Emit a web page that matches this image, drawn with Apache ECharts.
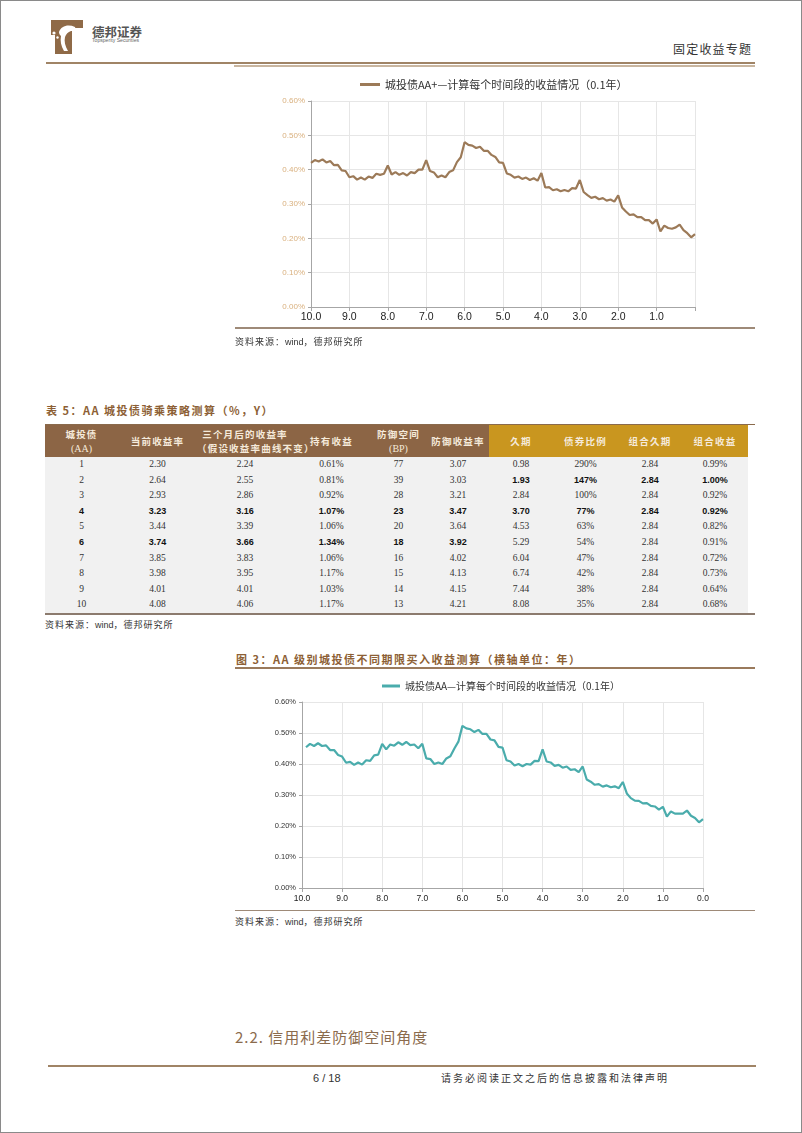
<!DOCTYPE html>
<html>
<head>
<meta charset="utf-8">
<script src="https://cdn.jsdelivr.net/npm/echarts@6/dist/echarts.min.js"></script>
<style>
  html,body{margin:0;padding:0;background:#fff;}
  #page{position:relative;width:802px;height:1133px;overflow:hidden;font-family:"Noto Sans CJK SC","Noto Sans",sans-serif;color:#333;}
  .abs{position:absolute;white-space:nowrap;}
  .frame{position:absolute;left:0;top:0;width:802px;height:1133px;box-sizing:border-box;border:1px solid #8a8a8a;pointer-events:none;}
  .rule{position:absolute;}
  .lat{letter-spacing:0;font-family:"Liberation Sans",sans-serif;}
  #tbl{position:absolute;left:45px;top:425px;border-collapse:collapse;border-spacing:0;table-layout:fixed;}
  #tbl td{padding:0;text-align:center;vertical-align:middle;white-space:nowrap;}
  #tbl tr.head td{height:32px;color:#f5eadb;font-weight:bold;font-size:9.5px;letter-spacing:1.2px;line-height:14px;overflow:visible;}
  #tbl tr.head td .lat{font-family:"Liberation Serif",serif;font-weight:normal;font-size:10px;}
  #tbl tr.body td{height:15.6px;line-height:15.6px;background:#f1f1f1;font-family:"Liberation Serif",serif;font-size:9.5px;color:#333;overflow:hidden;}
  #tbl tr.body td.b{font-family:"Liberation Sans",sans-serif;font-weight:bold;font-size:9px;color:#111;}
</style>
</head>
<body>
<div id="page">
  <!-- header -->
  <svg class="abs" style="left:51px;top:20px" width="32" height="34" viewBox="0 0 32 34">
    <path d="M0 0 H32 V8 H21 V34 H4 V15 H0 Z" fill="#8f6a47"/>
    <path d="M8 12 C10 6 17 4 24 7 C25 9 23 11 20 11 C17 12 15 14 14 17 C13 21 14 26 17 31 L13 31 C10 26 9 21 10 16 C9 15 8 14 8 12 Z" fill="#fff"/>
    <circle cx="3" cy="13" r="1.6" fill="#fff"/>
    <circle cx="2.5" cy="19" r="1.3" fill="#fff"/>
    <circle cx="6.5" cy="17.5" r="1.2" fill="#fff"/>
  </svg>
  <div class="abs" style="left:92px;top:24px;font-size:12.5px;line-height:16px;font-weight:bold;color:#555;">德邦证券</div>
  <div class="abs" style="left:92px;top:38px;font-size:6px;line-height:7px;color:#666;transform:scale(0.85);transform-origin:left top;font-family:'Liberation Sans',sans-serif;">Topsperity Securities</div>
  <div class="abs" style="left:673px;top:41px;font-size:12px;line-height:16px;letter-spacing:1.2px;color:#333;">固定收益专题</div>
  <div class="rule" style="left:46px;top:61.5px;width:709px;height:2.5px;background:#a08466;"></div>
  <div class="rule" style="left:234px;top:64.5px;width:521px;height:2px;background:#c9b6a0;"></div>

  <!-- top chart -->
  <div id="chart1" class="abs" style="left:235px;top:70px;width:520px;height:258px;"></div>
  <div class="rule" style="left:235px;top:327px;width:520px;height:1.5px;background:#9e8a78;"></div>
  <div class="abs" style="left:235px;top:334px;font-size:9px;line-height:16px;letter-spacing:1px;color:#333;">资料来源：<span class="lat">wind</span>，德邦研究所</div>

  <!-- table -->
  <div class="abs" style="left:46px;top:402px;font-size:11px;line-height:16px;letter-spacing:1.5px;font-weight:bold;color:#8d5f35;">表 5：AA 城投债骑乘策略测算（%，Y）</div>
  <div class="rule" style="left:45px;top:423.5px;width:710px;height:1.5px;background:#8a6a4c;"></div>
  <table id="tbl"></table>
  <div class="rule" style="left:45px;top:613px;width:710px;height:2px;background:#8c7b6e;"></div>
  <div class="abs" style="left:45px;top:617px;font-size:9px;line-height:16px;letter-spacing:1px;color:#333;">资料来源：<span class="lat">wind</span>，德邦研究所</div>

  <!-- figure 3 -->
  <div class="abs" style="left:236px;top:651px;font-size:11px;line-height:16px;letter-spacing:1.5px;font-weight:bold;color:#8d5f35;">图 3：AA 级别城投债不同期限买入收益测算（横轴单位：年）</div>
  <div class="rule" style="left:235px;top:667px;width:520px;height:1.5px;background:#9a7a5c;"></div>
  <div id="chart2" class="abs" style="left:235px;top:672px;width:520px;height:236px;"></div>
  <div class="rule" style="left:235px;top:909.5px;width:520px;height:1.5px;background:#9e8a78;"></div>
  <div class="abs" style="left:235px;top:914px;font-size:9px;line-height:16px;letter-spacing:1px;color:#333;">资料来源：<span class="lat">wind</span>，德邦研究所</div>

  <!-- section heading and footer -->
  <div class="abs" style="left:235px;top:1027px;font-size:15px;line-height:20px;letter-spacing:1px;color:#8b6b4d;">2.2. 信用利差防御空间角度</div>
  <div class="rule" style="left:48px;top:1064.5px;width:708px;height:2.5px;background:#a08466;"></div>
  <div class="abs" style="left:313px;top:1071px;font-size:11px;line-height:14px;color:#333;font-family:'Liberation Sans',sans-serif;">6 / 18</div>
  <div class="abs" style="left:441px;top:1071px;font-size:10px;line-height:14px;letter-spacing:2px;color:#333;">请务必阅读正文之后的信息披露和法律声明</div>

  <div class="frame"></div>
</div>

<script>
// ---------------- data ----------------
const categories = [
  '10.0','9.9','9.8','9.7','9.6','9.5','9.4','9.3','9.2','9.1',
  '9.0','8.9','8.8','8.7','8.6','8.5','8.4','8.3','8.2','8.1',
  '8.0','7.9','7.8','7.7','7.6','7.5','7.4','7.3','7.2','7.1',
  '7.0','6.9','6.8','6.7','6.6','6.5','6.4','6.3','6.2','6.1',
  '6.0','5.9','5.8','5.7','5.6','5.5','5.4','5.3','5.2','5.1',
  '5.0','4.9','4.8','4.7','4.6','4.5','4.4','4.3','4.2','4.1',
  '4.0','3.9','3.8','3.7','3.6','3.5','3.4','3.3','3.2','3.1',
  '3.0','2.9','2.8','2.7','2.6','2.5','2.4','2.3','2.2','2.1',
  '2.0','1.9','1.8','1.7','1.6','1.5','1.4','1.3','1.2','1.1',
  '1.0','0.9','0.8','0.7','0.6','0.5','0.4','0.3','0.2','0.1',
  '0.0'
];
const xTickLabelsTop = ['10.0','9.0','8.0','7.0','6.0','5.0','4.0','3.0','2.0','1.0'];
const xTickLabelsBottom = ['10.0','9.0','8.0','7.0','6.0','5.0','4.0','3.0','2.0','1.0','0.0'];
const yAxisMin = 0, yAxisMax = 0.6, yAxisStep = 0.1;

const seriesNameAAPlus = '城投债AA+—计算每个时间段的收益情况（0.1年）';
const yieldAAPlus = [
  0.420,0.428,0.424,0.430,0.421,0.425,0.413,0.414,0.398,0.396,
  0.378,0.381,0.371,0.377,0.371,0.380,0.376,0.388,0.385,0.388,
  0.412,0.386,0.393,0.385,0.390,0.383,0.393,0.390,0.400,0.400,
  0.428,0.396,0.392,0.378,0.383,0.378,0.393,0.398,0.422,0.436,
  0.480,0.472,0.470,0.463,0.467,0.455,0.455,0.443,0.437,0.421,
  0.420,0.389,0.385,0.377,0.380,0.373,0.377,0.370,0.375,0.368,
  0.390,0.348,0.349,0.340,0.343,0.337,0.341,0.337,0.346,0.345,
  0.370,0.335,0.326,0.318,0.321,0.314,0.317,0.310,0.313,0.307,
  0.325,0.290,0.278,0.268,0.270,0.262,0.262,0.253,0.253,0.243,
  0.255,0.220,0.237,0.230,0.228,0.232,0.240,0.224,0.215,0.203,
  0.212
];

const seriesNameAA = '城投债AA—计算每个时间段的收益情况（0.1年）';
const yieldAA = [
  null, 0.454,0.465,0.458,0.467,0.458,0.460,0.445,0.445,0.429,
  0.424,0.404,0.407,0.397,0.405,0.398,0.412,0.410,0.428,0.430,
  0.465,0.447,0.463,0.459,0.470,0.462,0.471,0.461,0.463,0.451,
  0.465,0.418,0.416,0.400,0.405,0.400,0.418,0.425,0.450,0.472,
  0.523,0.515,0.512,0.503,0.510,0.497,0.497,0.479,0.476,0.455,
  0.453,0.412,0.408,0.395,0.400,0.393,0.400,0.398,0.410,0.409,
  0.447,0.408,0.405,0.394,0.397,0.388,0.392,0.381,0.383,0.374,
  0.392,0.350,0.343,0.333,0.335,0.327,0.331,0.325,0.328,0.322,
  0.342,0.305,0.290,0.282,0.281,0.273,0.274,0.265,0.263,0.253,
  0.262,0.230,0.247,0.240,0.240,0.240,0.250,0.233,0.226,0.212,
  0.222
];

// table 5
const tableHeaders = ['城投债<br><span class="lat">(AA)</span>','当前收益率','三个月后的收益率<br>（假设收益率曲线不变）','持有收益','防御空间<br><span class="lat">(BP)</span>','防御收益率','久期','债券比例','组合久期','组合收益'];
const tenorAA          = ['1','2','3','4','5','6','7','8','9','10'];
const currentYield     = ['2.30','2.64','2.93','3.23','3.44','3.74','3.85','3.98','4.01','4.08'];
const yieldAfter3M     = ['2.24','2.55','2.86','3.16','3.39','3.66','3.83','3.95','4.01','4.06'];
const holdingReturn    = ['0.61%','0.81%','0.92%','1.07%','1.06%','1.34%','1.06%','1.17%','1.03%','1.17%'];
const defenseBP        = ['77','39','28','23','20','18','16','15','14','13'];
const defenseYield     = ['3.07','3.03','3.21','3.47','3.64','3.92','4.02','4.13','4.15','4.21'];
const duration         = ['0.98','1.93','2.84','3.70','4.53','5.29','6.04','6.74','7.44','8.08'];
const bondRatio        = ['290%','147%','100%','77%','63%','54%','47%','42%','38%','35%'];
const portfolioDur     = ['2.84','2.84','2.84','2.84','2.84','2.84','2.84','2.84','2.84','2.84'];
const portfolioReturn  = ['0.99%','1.00%','0.92%','0.92%','0.82%','0.91%','0.72%','0.73%','0.64%','0.68%'];

// ---------------- styling (kept apart from data) ----------------
const colWidths = [73,79,96,77,57,62,64,65,64,66];
const headBg = ['#8c6545','#8c6545','#8c6545','#8c6545','#8c6545','#8c6545','#c9961f','#c9961f','#c9961f','#c9961f'];
const boldCells = { 1:[6,7,8,9], 3:[0,1,2,3,4,5,6,7,8,9], 5:[0,1,2,3,4,5] };

// build table
(function(){
  const cols = [tenorAA,currentYield,yieldAfter3M,holdingReturn,defenseBP,defenseYield,duration,bondRatio,portfolioDur,portfolioReturn];
  const tbl = document.getElementById('tbl');
  let html = '<colgroup>' + colWidths.map(w=>'<col style="width:'+w+'px">').join('') + '</colgroup>';
  html += '<tr class="head">' + tableHeaders.map((h,i)=>'<td style="background:'+headBg[i]+'">'+h+'</td>').join('') + '</tr>';
  for(let r=0;r<tenorAA.length;r++){
    html += '<tr class="body">';
    for(let c=0;c<cols.length;c++){
      const b = boldCells[r] && boldCells[r].indexOf(c)>=0;
      html += '<td'+(b?' class="b"':'')+'>'+cols[c][r]+'</td>';
    }
    html += '</tr>';
  }
  tbl.style.width = colWidths.reduce((a,b)=>a+b,0)+'px';
  tbl.innerHTML = html;
})();

// ---------------- charts ----------------
function makeOption(cfg){
  return {
    animation:false,
    legend:{
      left:cfg.legendLeft, top:cfg.legendTop, icon:'rect', itemWidth:cfg.legendW, itemHeight:cfg.legendH, itemGap:4,
      textStyle:{fontSize:cfg.legendFont, color:'#333', fontFamily:'Noto Sans CJK SC'},
      data:[cfg.name]
    },
    grid:{left:cfg.gridLeft, right:cfg.gridRight, top:cfg.gridTop, bottom:cfg.gridBottom},
    xAxis:{
      type:'category', data:categories, boundaryGap:false,
      axisLine:{show:true, lineStyle:{color:'#a6a6a6', width:1}},
      axisTick:{show:true, interval:9, length:4, lineStyle:{color:'#a6a6a6'}},
      axisLabel:{interval:9, fontSize:cfg.xFont, color:'#222', margin:cfg.xMargin, fontFamily:'Liberation Sans',
        formatter:function(v){ return cfg.ticks.indexOf(v)>=0 ? v : ''; }},
      splitLine:{show:true, interval:9, lineStyle:{color:'#e6e6e6', width:1}}
    },
    yAxis:{
      type:'value', min:yAxisMin, max:yAxisMax, interval:yAxisStep,
      axisLine:{show:true, lineStyle:{color:'#a6a6a6', width:1}},
      axisTick:{show:true, length:3, lineStyle:{color:'#a6a6a6'}},
      axisLabel:{fontSize:cfg.yFont, color:cfg.yColor, margin:6, fontFamily:'Liberation Sans',
        formatter:function(v){ return v.toFixed(2)+'%'; }},
      splitLine:{show:true, lineStyle:{color:'#e6e6e6', width:1}}
    },
    series:[{
      type:'line', name:cfg.name, data:cfg.data, symbol:'none', showSymbol:false, connectNulls:false,
      lineStyle:{color:cfg.color, width:2.2}, itemStyle:{color:cfg.color}
    }]
  };
}

const chart1 = echarts.init(document.getElementById('chart1'));
chart1.setOption(makeOption({
  name:seriesNameAAPlus, data:yieldAAPlus, color:'#9c7a58', ticks:xTickLabelsTop,
  legendLeft:120, legendTop:4, legendW:20, legendH:3, legendFont:11,
  gridLeft:76, gridRight:60, gridTop:31, gridBottom:21,
  xFont:10.5, xMargin:5, yFont:8, yColor:'#d9b07e'
}));

const chart2 = echarts.init(document.getElementById('chart2'));
chart2.setOption(makeOption({
  name:seriesNameAA, data:yieldAA, color:'#4aacac', ticks:xTickLabelsBottom,
  legendLeft:142, legendTop:4, legendW:18, legendH:3, legendFont:10,
  gridLeft:67, gridRight:52, gridTop:30, gridBottom:20,
  xFont:8.5, xMargin:6, yFont:7.5, yColor:'#333'
}));
</script>
</body>
</html>
